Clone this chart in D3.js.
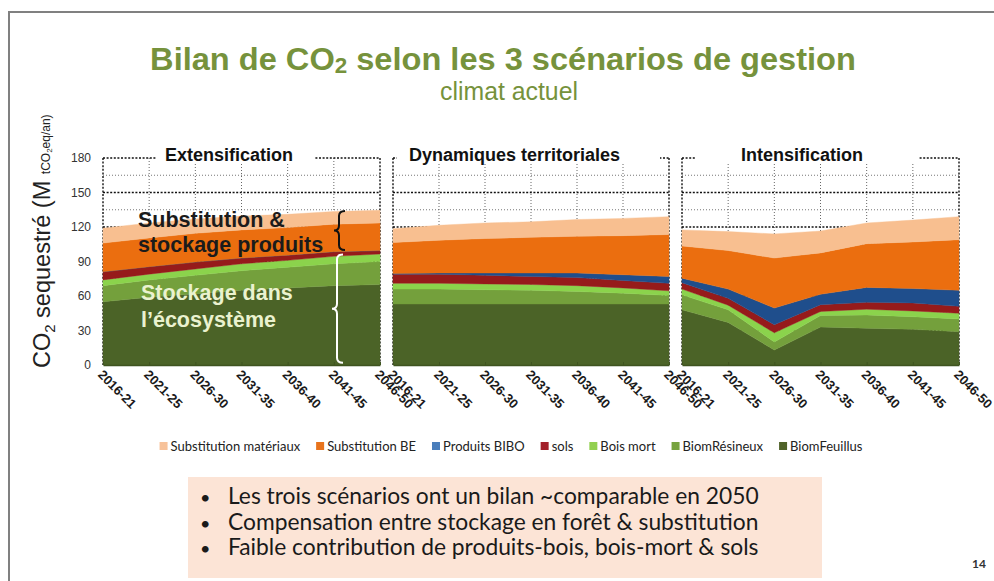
<!DOCTYPE html>
<html><head><meta charset="utf-8">
<script src="https://cdn.jsdelivr.net/npm/d3@7/dist/d3.min.js"></script>
<style>body{margin:0;background:#fff}svg{display:block}</style>
</head><body><svg id="c" width="994" height="581"></svg>
<script>
// ---------- DATA ----------
const categories = ["2016-21","2021-25","2026-30","2031-35","2036-40","2041-45","2046-50"];
const seriesNames = ["BiomFeuillus","BiomRésineux","Bois mort","sols","Produits BIBO","Substitution BE","Substitution matériaux"];
const legendOrder = ["Substitution matériaux","Substitution BE","Produits BIBO","sols","Bois mort","BiomRésineux","BiomFeuillus"];
const panelTitles = ["Extensification","Dynamiques territoriales","Intensification"];
const yTicks = [0,30,60,90,120,150,180];
const bullets = [
  "Les trois scénarios ont un bilan ~comparable en 2050",
  "Compensation entre stockage en forêt  & substitution",
  "Faible contribution de produits-bois, bois-mort & sols"
];

// Extensification (Mt CO2eq/an)
const extFeuillus  = [55, 59, 62, 65, 67, 69, 70];
const extResineux  = [14, 15, 16, 17, 18, 19, 20];
const extBoisMort  = [5, 5, 5.5, 6, 6, 6.5, 6.5];
const extSols      = [7, 6.5, 6, 5, 4.5, 4, 3];
const extBIBO      = [0, 0, 0, 0, 0, 0, 0];
const extSubBE     = [25, 25, 25, 24.5, 24, 24, 24];
const extSubMat    = [13, 13, 12.5, 12, 11.5, 11, 11];

// Dynamiques territoriales
const dynFeuillus  = [53, 53, 53, 53, 53, 53, 53];
const dynResineux  = [13, 13, 12.5, 12, 11, 9.5, 7.5];
const dynBoisMort  = [5, 5, 5, 5, 5, 4.5, 4];
const dynSols      = [8, 8, 7.5, 7, 7, 6.5, 6.5];
const dynBIBO      = [0.5, 1, 2, 3, 4, 5, 6];
const dynSubBE     = [27, 28.5, 30, 31, 32, 34, 36.5];
const dynSubMat    = [12, 13, 13.5, 13.5, 14.5, 15, 15.5];

// Intensification
const intFeuillus  = [48, 37, 13, 33, 32, 31, 29];
const intResineux  = [13, 11, 7, 10, 11.5, 11, 11];
const intBoisMort  = [5, 4, 8, 3.5, 5, 5, 5];
const intSols      = [5.5, 6, 7, 6, 6, 7, 6];
const intBIBO      = [4, 8, 14.5, 9, 13, 12.5, 14];
const intSubBE     = [28, 33.5, 43.5, 36, 38, 40.5, 44];
const intSubMat    = [14, 16.5, 21, 19, 18, 19, 20];

// ---------- STYLE ----------
const areaColors = {
  "BiomFeuillus":"#4b6327","BiomRésineux":"#74a03c","Bois mort":"#8bd34c","sols":"#961b1b",
  "Produits BIBO":"#1f4e8c","Substitution BE":"#eb6e0f","Substitution matériaux":"#f8bf90"
};
const legendColors = {
  "BiomFeuillus":"#4f6228","BiomRésineux":"#77a33f","Bois mort":"#92d050","sols":"#a3202a",
  "Produits BIBO":"#4a7ebb","Substitution BE":"#e8731c","Substitution matériaux":"#f7c29a"
};
const green = "#76923c";

const svg = d3.select("#c");

// slide frame
svg.append("line").attr("x1",8).attr("x2",994).attr("y1",12).attr("y2",12).attr("stroke","#808080").attr("stroke-width",2);
svg.append("line").attr("x1",9).attr("x2",9).attr("y1",12).attr("y2",581).attr("stroke","#808080").attr("stroke-width",2);

function fitX(sel, cx, yb, width){
  const w = sel.node().getComputedTextLength();
  sel.attr("x",0).attr("y",0).attr("text-anchor","middle")
     .attr("transform",`translate(${cx},${yb}) scale(${width/w},1)`);
}

// title
const title = svg.append("text")
  .attr("font-family","Liberation Sans, Arial, sans-serif").attr("font-weight","bold")
  .attr("font-size",32).attr("fill",green);
title.append("tspan").text("Bilan de CO");
title.append("tspan").text("2").attr("font-size",22).attr("dy",3);
title.append("tspan").text(" selon les 3 scénarios de gestion").attr("dy",-3);
fitX(title, 503, 70, 706);
const sub = svg.append("text")
  .attr("font-family","Liberation Sans, Arial, sans-serif")
  .attr("font-size",26).attr("fill",green).text("climat actuel");
fitX(sub, 509, 100, 138);

// y label
const yl = svg.append("text").attr("transform","translate(50,368) rotate(-90)")
  .attr("font-family","Liberation Sans, Arial, sans-serif").attr("font-size",23.5).attr("fill","#222");
yl.append("tspan").text("CO");
yl.append("tspan").text("2").attr("font-size",15).attr("dy",5);
yl.append("tspan").text(" sequestré (M ").attr("dy",-5);
yl.append("tspan").text("tCO").attr("font-size",12);
yl.append("tspan").text("2").attr("font-size",8).attr("dy",2);
yl.append("tspan").text("eq/an)").attr("font-size",12).attr("dy",-2);

const y = d3.scaleLinear().domain([0,180]).range([365,158]);

const panels = [
  {title:panelTitles[0], left:103, right:380, tx:62, gapL:54, gapR:212,
   data:[extFeuillus,extResineux,extBoisMort,extSols,extBIBO,extSubBE,extSubMat]},
  {title:panelTitles[1], left:393, right:669, tx:16, gapL:4, gapR:267,
   data:[dynFeuillus,dynResineux,dynBoisMort,dynSols,dynBIBO,dynSubBE,dynSubMat]},
  {title:panelTitles[2], left:682, right:959, tx:59, gapL:13, gapR:236,
   data:[intFeuillus,intResineux,intBoisMort,intSols,intBIBO,intSubBE,intSubMat]}
];

panels.forEach((p,pi)=>{
  const x = d3.scalePoint().domain(categories).range([p.left,p.right]);
  const g = svg.append("g");
  // grid
  const minor = d3.range(15,180,30);
  g.selectAll(".mn").data(minor).join("line")
    .attr("x1",p.left).attr("x2",p.right).attr("y1",d=>y(d)).attr("y2",d=>y(d))
    .attr("stroke","#666").attr("stroke-width",0.9).attr("stroke-dasharray","1,2");
  g.selectAll(".vg").data(categories.slice(1,-1)).join("line")
    .attr("x1",d=>x(d)).attr("x2",d=>x(d)).attr("y1",y(180)).attr("y2",y(0))
    .attr("stroke","#555").attr("stroke-width",0.9).attr("stroke-dasharray","1,2");
  g.selectAll(".mj").data(yTicks.slice(1)).join("line")
    .attr("x1",p.left).attr("x2",p.right).attr("y1",d=>y(d)).attr("y2",d=>y(d))
    .attr("stroke","#111").attr("stroke-width",1.4).attr("stroke-dasharray","2,1.6");
  g.selectAll(".bd").data([p.left,p.right]).join("line")
    .attr("x1",d=>d).attr("x2",d=>d).attr("y1",y(180)).attr("y2",y(0))
    .attr("stroke","#111").attr("stroke-width",1.4).attr("stroke-dasharray","2,1.6");

  // stacked areas
  const rows = categories.map((c,i)=>{const r={cat:c}; seriesNames.forEach((s,k)=>r[s]=p.data[k][i]); return r;});
  const stack = d3.stack().keys(seriesNames)(rows);
  const area = d3.area().x(d=>x(d.data.cat)).y0(d=>y(d[0])).y1(d=>y(d[1]));
  g.selectAll(".ar").data(stack).join("path")
    .attr("d",area).attr("fill",d=>areaColors[d.key])
    .attr("stroke",d=>areaColors[d.key]).attr("stroke-width",0.4);

  // x axis
  const xa = g.append("g").attr("transform",`translate(0,${y(0)})`)
    .call(d3.axisBottom(x).tickSize(-3).tickSizeOuter(0));
  xa.select(".domain").attr("stroke","#3f5420").attr("stroke-width",1.5);
  xa.selectAll(".tick line").attr("stroke","#3f5420");
  xa.selectAll("text").attr("transform","rotate(45)").attr("text-anchor","start")
    .attr("x",3).attr("y",12).attr("dy",0)
    .attr("font-family","Liberation Sans, Arial, sans-serif").attr("font-size",13)
    .attr("font-weight","bold").attr("fill","#1a1a1a");

  // panel title
  g.append("rect").attr("x",p.left+p.gapL).attr("y",y(180)-14).attr("width",p.gapR-p.gapL).attr("height",20).attr("fill","#fff");
  g.append("text").attr("x",p.left+p.tx).attr("y",y(180)+3)
    .attr("font-family","Liberation Sans, Arial, sans-serif").attr("font-weight","bold")
    .attr("font-size",18).attr("fill","#111").text(p.title);

  if(pi===0){
    const ya = svg.append("g").attr("transform",`translate(${p.left},0)`)
      .call(d3.axisLeft(y).tickValues(yTicks).tickSize(0).tickPadding(12));
    ya.select(".domain").remove();
    ya.selectAll("text").attr("font-family","Liberation Sans, Arial, sans-serif")
      .attr("font-size",12).attr("fill","#333");
    // annotations
    const ann = svg.append("g").attr("font-family","Liberation Sans, Arial, sans-serif")
      .attr("font-weight","bold").attr("font-size",21.5);
    ann.append("text").attr("x",138).attr("y",227).attr("fill","#1b1b1b").text("Substitution &");
    ann.append("text").attr("x",138).attr("y",252).attr("fill","#1b1b1b").text("stockage produits");
    ann.append("text").attr("x",141).attr("y",300).attr("fill","#eaf2cf").text("Stockage dans");
    ann.append("text").attr("x",141).attr("y",327).attr("fill","#eaf2cf").text("l’écosystème");
    const brace = (x0, ya0, yb0, col)=>{
      const t=y(ya0), b=y(yb0), m=(t+b)/2;
      const d=`M${x0+9},${t} Q${x0+3},${t} ${x0+3},${t+5} L${x0+3},${m-5} Q${x0+3},${m} ${x0-2},${m} Q${x0+3},${m} ${x0+3},${m+5} L${x0+3},${b-5} Q${x0+3},${b} ${x0+9},${b}`;
      svg.append("path").attr("d",d).attr("fill","none").attr("stroke",col).attr("stroke-width",2);
    };
    brace(336,134,100,"#111");
    brace(334,96,2,"#fff");
  }
});

// legend
const lg = svg.append("g").attr("font-family","Lato, sans-serif").attr("font-size",13).attr("fill","#222");
let cx = 0;
legendOrder.forEach(name=>{
  const it = lg.append("g").attr("transform",`translate(${cx},0)`);
  it.append("rect").attr("x",0).attr("y",442).attr("width",8).attr("height",8).attr("fill",legendColors[name]);
  const t = it.append("text").attr("x",11).attr("y",451).text(name);
  const w = t.node().getComputedTextLength();
  cx += 11 + w + 16;
});
const totalW = cx - 16;
lg.attr("transform",`translate(${511-totalW/2},0)`);

// bullet box
svg.append("rect").attr("x",188).attr("y",477).attr("width",634).attr("height",101).attr("fill","#fce4d6");
const bt = svg.append("g").attr("font-family","Lato, sans-serif").attr("font-size",22.8).attr("fill","#1a1a1a");
bullets.forEach((b,i)=>{
  bt.append("text").attr("x",200).attr("y",504+i*25.5).attr("font-size",18).text("•");
  bt.append("text").attr("x",228).attr("y",504+i*25.5).text(b);
});

svg.append("text").attr("x",972).attr("y",568).attr("font-family","Lato, sans-serif")
  .attr("font-size",12).attr("font-weight","bold").attr("fill","#333").text("14");
</script></body></html>
